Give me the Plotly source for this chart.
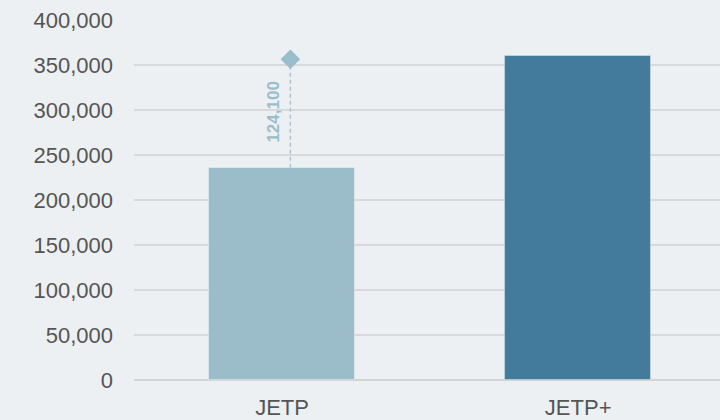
import plotly.graph_objects as go

categories = ["JETP", "JETP+"]
values = [235900, 360000]
bar_colors = ["#9bbdc9", "#427b9c"]
diff_label = "124,100"
y_ticks = [0, 50000, 100000, 150000, 200000, 250000, 300000, 350000, 400000]
y_ticktext = ["0", "50,000", "100,000", "150,000", "200,000", "250,000", "300,000", "350,000", "400,000"]

xpos = list(range(len(categories)))
FONT = "Liberation Sans, Arial, sans-serif"

fig = go.Figure()
fig.add_trace(go.Bar(
    x=xpos, y=values, width=0.493,
    marker=dict(color=bar_colors, line=dict(color="rgba(255,255,255,0.35)", width=1)),
    hoverinfo="skip", showlegend=False,
))
# difference indicator: dashed line from first bar to second bar value, with diamond
fig.add_trace(go.Scatter(
    x=[xpos[0] + 0.028, xpos[0] + 0.028], y=[values[0], values[1]],
    mode="lines", line=dict(color="#a9c6d1", width=1.5, dash="4px,3px"),
    hoverinfo="skip", showlegend=False,
))
fig.add_trace(go.Scatter(
    x=[xpos[0] + 0.028], y=[values[1] - 3500],
    mode="markers", marker=dict(symbol="diamond", size=15, color="#9bbdc9"),
    hoverinfo="skip", showlegend=False,
))
fig.add_annotation(
    x=xpos[0] - 0.028, y=(values[0] + values[1]) / 2,
    text="<b>" + diff_label + "</b>", textangle=-90, showarrow=False,
    font=dict(family=FONT, size=17, color="#9bbdc9"),
)

fig.update_layout(
    width=720, height=420,
    margin=dict(l=134, r=0, t=20, b=40),
    paper_bgcolor="#edf0f3", plot_bgcolor="#edf0f3",
    font=dict(family=FONT, size=22, color="#555555"),
    bargap=0,
    xaxis=dict(
        range=[-0.5, 1.479], tickvals=xpos, ticktext=categories,
        showgrid=False, zeroline=False, showline=False, ticks="",
        ticklabelstandoff=12,
        tickfont=dict(size=22, color="#555555"),
    ),
    yaxis=dict(
        range=[0, 400000], tickvals=y_ticks, ticktext=y_ticktext,
        showgrid=True, gridcolor="#d8d9db", gridwidth=2,
        zeroline=True, zerolinecolor="#d3d4d6", zerolinewidth=2,
        ticks="", ticklabelstandoff=20,
        tickfont=dict(size=22, color="#555555"),
    ),
)

fig.write_html("out.html")
